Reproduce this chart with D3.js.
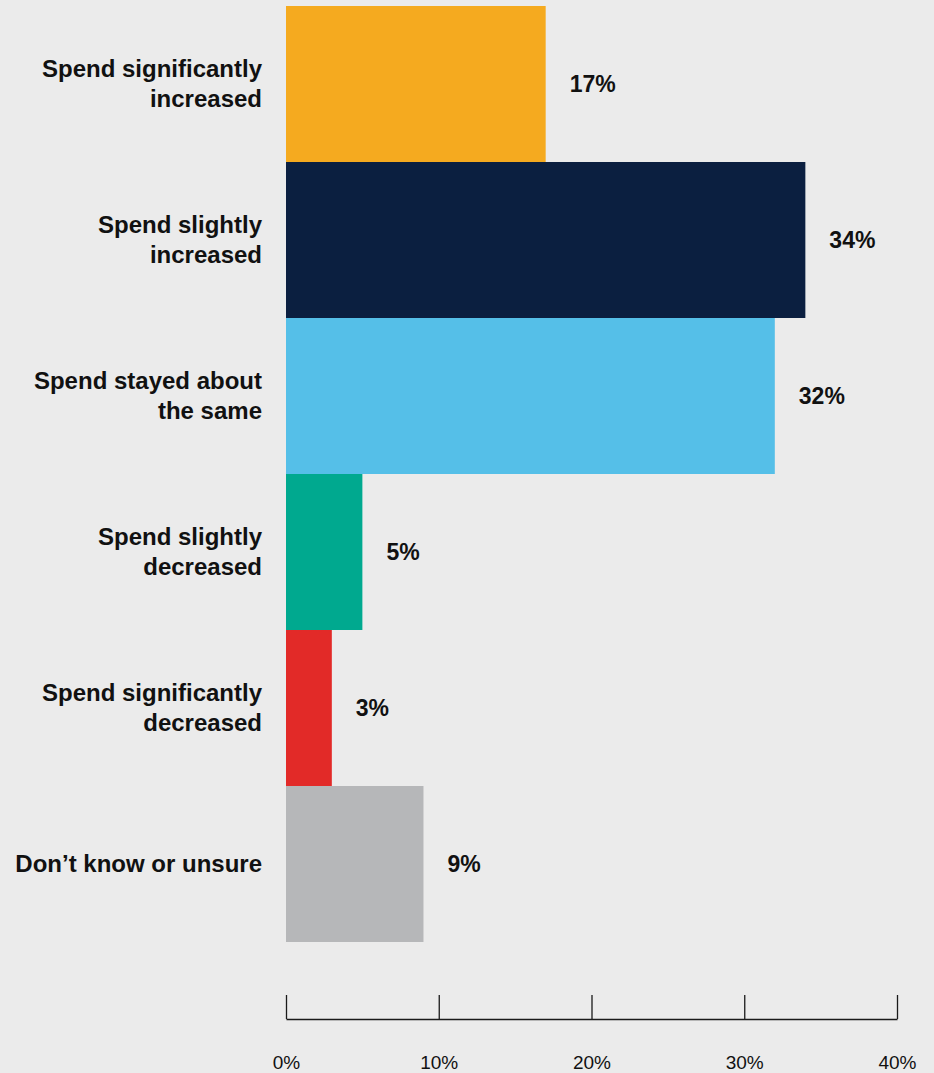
<!DOCTYPE html>
<html>
<head>
<meta charset="utf-8">
<script src="https://cdn.jsdelivr.net/npm/d3@7"></script>
<style>
  html, body { margin: 0; padding: 0; background: #ebebeb; }
  svg { display: block; }
  text { font-family: "Liberation Sans", Arial, Helvetica, sans-serif; fill: #111; }
</style>
</head>
<body>
<svg id="chart" width="934" height="1073"></svg>
<script>
// Share of respondents by change in spend
const categories = [
  ["Spend significantly", "increased"],
  ["Spend slightly", "increased"],
  ["Spend stayed about", "the same"],
  ["Spend slightly", "decreased"],
  ["Spend significantly", "decreased"],
  ["Don\u2019t know or unsure"]
];
const values = [17, 34, 32, 5, 3, 9];
const colors = ["#f5aa1f", "#0b1f40", "#55bfe8", "#00a98f", "#e22a28", "#b6b7b9"];
const tickValues = [0, 10, 20, 30, 40];

const svg = d3.select("#chart");
const W = 934, H = 1073;
svg.append("rect").attr("width", W).attr("height", H).attr("fill", "#ebebeb");

const keys = categories.map(c => c.join(" "));
const x = d3.scaleLinear().domain([0, 40]).range([286, 897]);
const y = d3.scaleBand().domain(keys).range([6, 942]).padding(0);

const rows = keys.map((k, i) => ({ key: k, lines: categories[i], value: values[i], color: colors[i] }));

// Bars
svg.append("g").selectAll("rect").data(rows).join("rect")
  .attr("x", x(0))
  .attr("y", d => y(d.key))
  .attr("width", d => x(d.value) - x(0))
  .attr("height", y.bandwidth())
  .attr("fill", d => d.color);

// Category labels, right-aligned to the left of the bars
const lineH = 30;
const cat = svg.append("g").selectAll("text").data(rows).join("text")
  .attr("text-anchor", "end")
  .attr("font-size", 24)
  .attr("font-weight", "bold")
  .attr("transform", d => `translate(262, ${y(d.key) + y.bandwidth() / 2})`);
cat.selectAll("tspan").data(d => d.lines.map((t, i) => ({ t, i, n: d.lines.length }))).join("tspan")
  .attr("x", 0)
  .attr("y", d => (d.i - (d.n - 1) / 2) * lineH)
  .attr("dy", "0.35em")
  .text(d => d.t);

// Value labels
svg.append("g").selectAll("text").data(rows).join("text")
  .attr("x", d => x(d.value) + 24)
  .attr("y", d => y(d.key) + y.bandwidth() / 2)
  .attr("dy", "0.35em")
  .attr("font-size", 23)
  .attr("font-weight", "bold")
  .text(d => d.value + "%");

// Axis with upward ticks
const axis = d3.axisBottom(x)
  .tickValues(tickValues)
  .tickFormat(d => d + "%")
  .tickSizeInner(-24)
  .tickSizeOuter(0)
  .tickPadding(37);
const ag = svg.append("g").attr("transform", "translate(0, 1019)").call(axis);
ag.select(".domain").attr("stroke", "#1a1a1a").attr("stroke-width", 1.3);
ag.selectAll(".tick line").attr("stroke", "#1a1a1a").attr("stroke-width", 1.3);
ag.selectAll(".tick text")
  .attr("font-family", "\"Liberation Sans\", Arial, sans-serif")
  .attr("font-size", 19)
  .attr("fill", "#1a1a1a");
</script>
</body>
</html>
